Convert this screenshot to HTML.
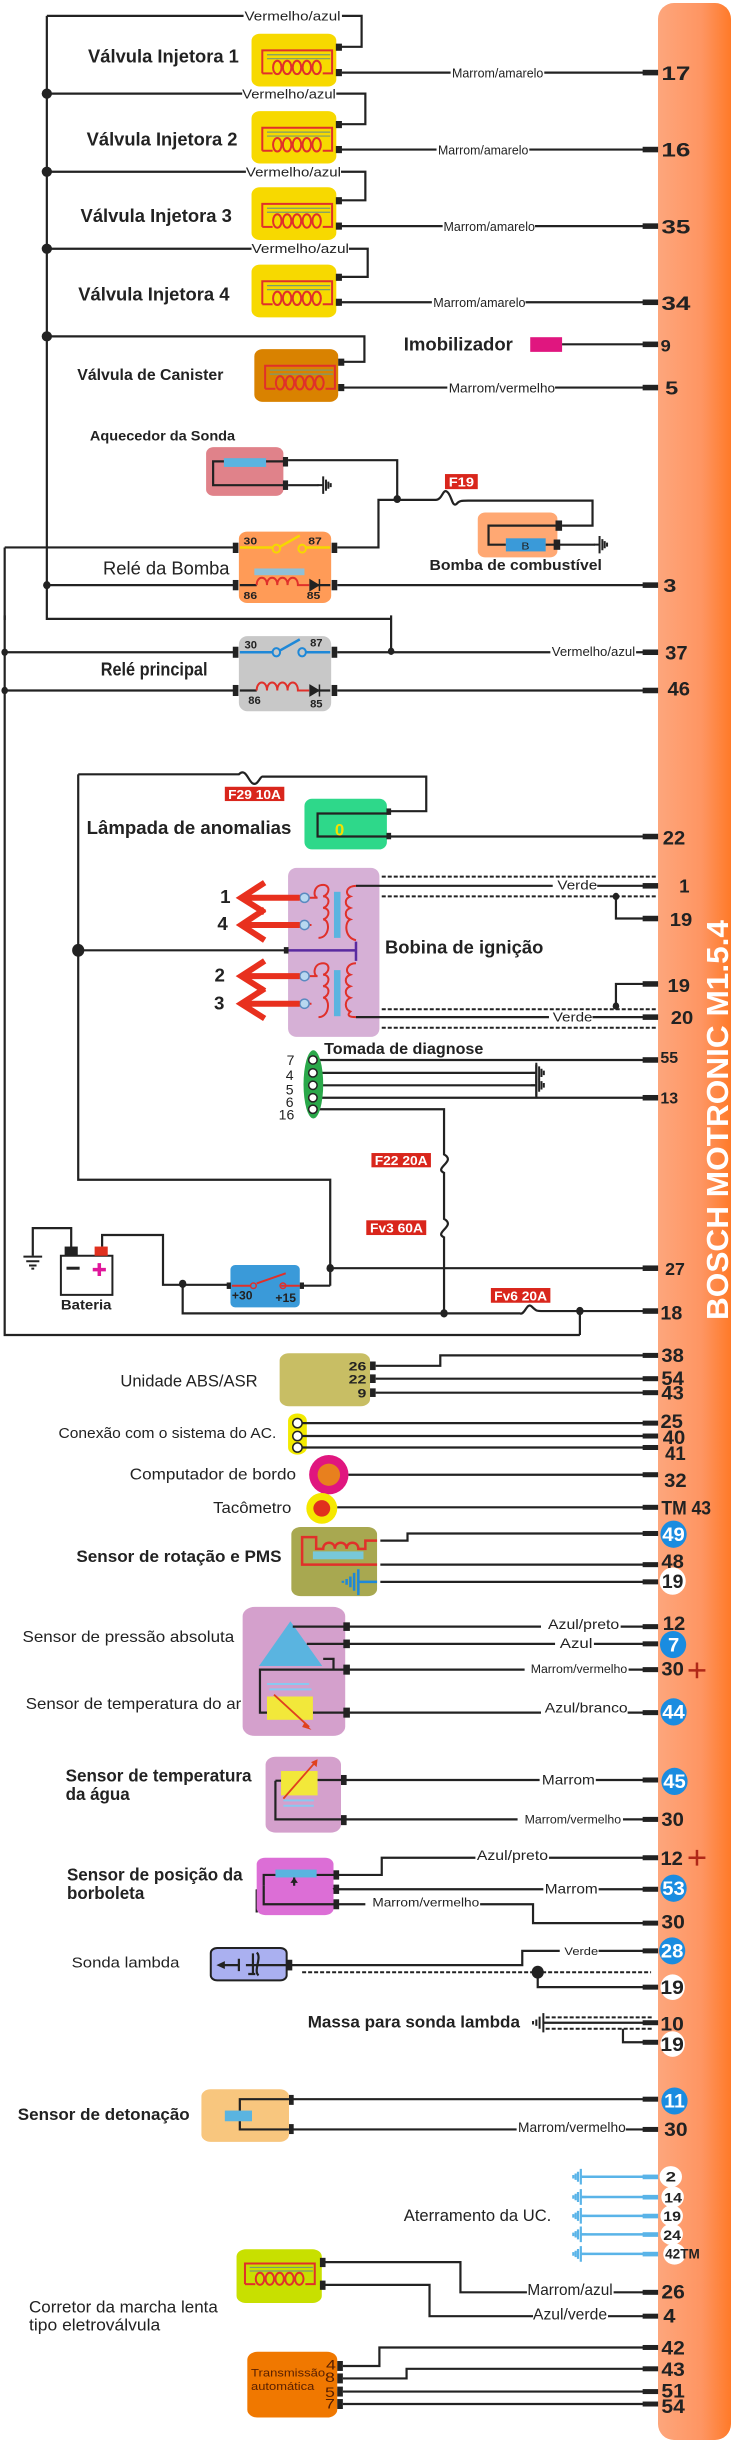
<!DOCTYPE html>
<html><head><meta charset="utf-8"><style>
html,body{margin:0;padding:0;background:#fff;}
svg{display:block;}
text{font-family:"Liberation Sans",sans-serif;fill:#222;}
.b{font-weight:bold;}
.w{stroke:#222;stroke-width:2.2;fill:none;vector-effect:non-scaling-stroke;}
.wd{stroke:#222;stroke-width:2;fill:none;stroke-dasharray:4 2;vector-effect:non-scaling-stroke;}
.r{stroke:#e0302a;stroke-width:2;fill:none;vector-effect:non-scaling-stroke;}
.ra{stroke:#e8301e;stroke-width:6;fill:none;vector-effect:non-scaling-stroke;}
.bl{stroke:#1e88d8;stroke-width:2.5;fill:none;vector-effect:non-scaling-stroke;}
.lb{stroke:#5ab4e8;stroke-width:2.5;fill:none;vector-effect:non-scaling-stroke;}
.pad{fill:#222;}
.rl{fill:#d9261c;}
.rt{fill:#fff;font-weight:bold;}
</style></head><body>
<svg width="732" height="2456" viewBox="0 0 732 2456" xmlns="http://www.w3.org/2000/svg">
<defs>
<linearGradient id="bar" x1="0" y1="0" x2="1" y2="0">
<stop offset="0" stop-color="#fda67c"/><stop offset="0.6" stop-color="#fe9562"/><stop offset="1" stop-color="#ff7a28"/>
</linearGradient>
<g id="inj">
<path class="r" d="M23 100 V42 H172 V100 H152"/>
<path d="M33 53 H168 M33 63 H168" stroke="#7a9a70" stroke-width="1.2" fill="none" vector-effect="non-scaling-stroke"/>
<path class="r" d="M23 100 H45"/>
<ellipse class="r" cx="55" cy="85" rx="9" ry="17"/><ellipse class="r" cx="76" cy="85" rx="9" ry="17"/><ellipse class="r" cx="97" cy="85" rx="9" ry="17"/><ellipse class="r" cx="118" cy="85" rx="9" ry="17"/><ellipse class="r" cx="139" cy="85" rx="9" ry="17"/>
</g>
<g id="gnd">
<path d="M0 0 H12 M12 -22 V22 M18 -14 V14 M23 -9 V9 M28 -5 V5" stroke="#222" stroke-width="2" fill="none" vector-effect="non-scaling-stroke"/>
</g>
<g id="gndb">
<path d="M0 0 H-12 M-12 -22 V22 M-18 -14 V14 M-23 -9 V9 M-28 -5 V5" stroke="#5ab4e8" stroke-width="2.2" fill="none" vector-effect="non-scaling-stroke"/>
</g>
</defs>

<rect x="658" y="3" width="73" height="2437" rx="16" fill="url(#bar)"/>
<text x="0" y="0" transform="translate(728,1320) rotate(-90)" font-size="31" class="b" style="fill:#fff" textLength="400" lengthAdjust="spacingAndGlyphs">BOSCH MOTRONIC M1.5.4</text>

<!-- SECTION 1 -->
<g transform="scale(0.4684 0.3967)">
<path class="w" d="M100 40 V1560 H835"/>
<path class="w" d="M100 40 H520 M730 40 H772 V118 H720"/>
<path class="w" d="M730 183 H962 M1162 183 H1375"/>
<path class="w" d="M100 236 H517 M718 236 H780 V313 H720"/>
<path class="w" d="M720 377 H932 M1130 377 H1375"/>
<path class="w" d="M100 433 H525 M728 433 H780 V505 H720"/>
<path class="w" d="M720 570 H945 M1142 570 H1375"/>
<path class="w" d="M100 627 H537 M745 627 H785 V698 H720"/>
<path class="w" d="M720 762 H922 M1122 762 H1375"/>
<path class="w" d="M100 848 H778 V912 H728"/>
<path class="w" d="M728 977 H955 M1185 977 H1375"/>
<g fill="#222"><ellipse cx="100" cy="236" rx="11" ry="13"/><ellipse cx="100" cy="433" rx="11" ry="13"/><ellipse cx="100" cy="627" rx="11" ry="13"/><ellipse cx="100" cy="848" rx="11" ry="13"/><ellipse cx="100" cy="1475" rx="8" ry="10"/></g>
<rect x="537" y="85" width="181" height="133" rx="18" fill="#f7d900"/>
<rect x="537" y="280" width="181" height="132" rx="18" fill="#f7d900"/>
<rect x="537" y="472" width="181" height="133" rx="18" fill="#f7d900"/>
<rect x="537" y="667" width="181" height="133" rx="18" fill="#f7d900"/>
<rect x="543" y="880" width="179" height="133" rx="18" fill="#d98200"/>
<use href="#inj" x="537" y="85"/><use href="#inj" x="537" y="280"/><use href="#inj" x="537" y="472"/><use href="#inj" x="537" y="667"/><use href="#inj" x="543" y="880"/>
<g class="pad">
<rect x="717" y="110" width="13" height="18"/><rect x="717" y="174" width="13" height="18"/>
<rect x="717" y="305" width="13" height="18"/><rect x="717" y="368" width="13" height="18"/>
<rect x="717" y="497" width="13" height="18"/><rect x="717" y="561" width="13" height="18"/>
<rect x="717" y="690" width="13" height="18"/><rect x="717" y="753" width="13" height="18"/>
<rect x="722" y="904" width="13" height="18"/><rect x="722" y="968" width="13" height="18"/>
<rect x="1372" y="176" width="33" height="14"/><rect x="1372" y="370" width="33" height="14"/><rect x="1372" y="563" width="33" height="14"/><rect x="1372" y="755" width="33" height="14"/><rect x="1372" y="861" width="33" height="14"/><rect x="1372" y="970" width="33" height="14"/><rect x="1372" y="1468" width="33" height="14"/>
</g>
<g font-size="32">
<text x="522" y="52" textLength="205" lengthAdjust="spacingAndGlyphs">Vermelho/azul</text>
<text x="517" y="248" textLength="200" lengthAdjust="spacingAndGlyphs">Vermelho/azul</text>
<text x="525" y="445" textLength="203" lengthAdjust="spacingAndGlyphs">Vermelho/azul</text>
<text x="537" y="638" textLength="208" lengthAdjust="spacingAndGlyphs">Vermelho/azul</text>
<text x="965" y="195" textLength="195" lengthAdjust="spacingAndGlyphs">Marrom/amarelo</text>
<text x="935" y="389" textLength="193" lengthAdjust="spacingAndGlyphs">Marrom/amarelo</text>
<text x="947" y="582" textLength="195" lengthAdjust="spacingAndGlyphs">Marrom/amarelo</text>
<text x="925" y="774" textLength="197" lengthAdjust="spacingAndGlyphs">Marrom/amarelo</text>
<text x="958" y="989" textLength="227" lengthAdjust="spacingAndGlyphs">Marrom/vermelho</text>
</g>
<g font-size="46">
<text x="188" y="158" class="b" textLength="322" lengthAdjust="spacingAndGlyphs">Válvula Injetora 1</text>
<text x="185" y="367" class="b" textLength="322" lengthAdjust="spacingAndGlyphs">Válvula Injetora 2</text>
<text x="172" y="560" class="b" textLength="323" lengthAdjust="spacingAndGlyphs">Válvula Injetora 3</text>
<text x="167" y="757" class="b" textLength="323" lengthAdjust="spacingAndGlyphs">Válvula Injetora 4</text>
<text x="165" y="958" font-size="40" class="b" textLength="312" lengthAdjust="spacingAndGlyphs">Válvula de Canister</text>
<text x="862" y="883" class="b" textLength="233" lengthAdjust="spacingAndGlyphs">Imobilizador</text>
</g>
<g font-size="50" class="b">
<text x="1412" y="202" class="b" textLength="62" lengthAdjust="spacingAndGlyphs">17</text>
<text x="1412" y="395" class="b" textLength="62" lengthAdjust="spacingAndGlyphs">16</text>
<text x="1412" y="588" class="b" textLength="62" lengthAdjust="spacingAndGlyphs">35</text>
<text x="1412" y="781" class="b" textLength="62" lengthAdjust="spacingAndGlyphs">34</text>
<text x="1410" y="886" class="b" font-size="42" textLength="22" lengthAdjust="spacingAndGlyphs">9</text>
<text x="1420" y="995" class="b" font-size="46" textLength="28" lengthAdjust="spacingAndGlyphs">5</text>
<text x="1416" y="1492" class="b" font-size="46" textLength="28" lengthAdjust="spacingAndGlyphs">3</text>
</g>
<rect x="1132" y="850" width="68" height="37" fill="#e0167f"/>
<path class="w" d="M1200 868 H1375"/>
<!-- aquecedor -->
<text x="192" y="1110" font-size="36" class="b" textLength="310" lengthAdjust="spacingAndGlyphs">Aquecedor da Sonda</text>
<rect x="440" y="1127" width="165" height="123" rx="16" fill="#e0828a"/>
<path class="w" d="M605 1163 H455 V1223 H605"/>
<rect x="478" y="1155" width="90" height="22" fill="#5ab4e0"/>
<g class="pad"><rect x="604" y="1152" width="11" height="24"/><rect x="604" y="1211" width="11" height="24"/></g>
<path class="w" d="M615 1160 H848 V1258 M615 1223 H680"/>
<use href="#gnd" x="678" y="1223"/>
<path class="w" d="M720 1380 H808 V1260 H930 C945 1260 945 1230 955 1240 C965 1250 965 1280 975 1270 C980 1262 985 1262 1000 1262 H1265 V1325 H1200"/>
<ellipse cx="848" cy="1258" rx="8" ry="10" fill="#222"/>
<rect x="950" y="1195" width="70" height="38" class="rl"/>
<text x="958" y="1227" font-size="32" class="rt" textLength="54" lengthAdjust="spacingAndGlyphs">F19</text>
<rect x="1020" y="1292" width="170" height="113" rx="16" fill="#ffa873"/>
<path class="w" d="M1190 1325 H1043 V1373 H1080"/>
<rect x="1080" y="1357" width="85" height="33" fill="#3a9ad9"/>
<text x="1113" y="1385" font-size="26">B</text>
<path class="w" d="M1165 1373 H1270"/>
<g class="pad"><rect x="1186" y="1312" width="14" height="26"/><rect x="1182" y="1360" width="14" height="26"/></g>
<use href="#gnd" x="1268" y="1373"/>
<text x="917" y="1437" font-size="38" class="b" textLength="368" lengthAdjust="spacingAndGlyphs">Bomba de combustível</text>
<!-- rele bomba -->
<path class="w" d="M10 1380 V1563 M10 1380 H502 M100 1475 H502 M720 1475 H1375"/>
<rect x="510" y="1340" width="197" height="180" rx="18" fill="#ff9b57"/>
<path d="M512 1380 H582 M598 1378 L640 1350 M652 1380 H705" stroke="#f5d800" stroke-width="2.5" fill="none" vector-effect="non-scaling-stroke"/>
<ellipse cx="590" cy="1383" rx="8" ry="10" fill="none" stroke="#f5d800" stroke-width="2" vector-effect="non-scaling-stroke"/>
<ellipse cx="645" cy="1383" rx="8" ry="10" fill="none" stroke="#f5d800" stroke-width="2" vector-effect="non-scaling-stroke"/>
<rect x="543" y="1433" width="107" height="17" fill="#8fc0d8"/>
<path class="w" d="M512 1475 H548 M662 1475 H705"/>
<path class="r" d="M548 1475 C548 1450 570 1450 570 1475 C570 1450 592 1450 592 1475 C592 1450 614 1450 614 1475 C614 1450 636 1450 636 1475 H660"/>
<path d="M662 1462 L680 1475 L662 1488 Z M682 1460 V1490" fill="#222" stroke="#222" stroke-width="1.5" vector-effect="non-scaling-stroke"/>
<g class="pad"><rect x="497" y="1368" width="12" height="26"/><rect x="708" y="1368" width="12" height="26"/><rect x="497" y="1462" width="12" height="26"/><rect x="708" y="1462" width="12" height="26"/></g>
<g font-size="26" class="b"><text x="520" y="1372">30</text><text x="658" y="1372">87</text><text x="520" y="1510">86</text><text x="655" y="1510">85</text></g>
<text x="220" y="1448" font-size="46" textLength="270" lengthAdjust="spacingAndGlyphs">Relé da Bomba</text>
</g>

<!-- SECTION 2 -->
<g transform="translate(0,620) scale(0.4684 0.4607)">
<path class="w" d="M10 -10 V1552 H1238 M835 -10 V70"/>
<ellipse cx="835" cy="68" rx="7" ry="8" fill="#222"/>
<ellipse cx="10" cy="70" rx="7" ry="8" fill="#222"/><ellipse cx="10" cy="153" rx="7" ry="8" fill="#222"/>
<path class="w" d="M10 70 H502 M720 70 H1175 M1358 70 H1375 M10 153 H502 M720 153 H1375"/>
<rect x="510" y="35" width="197" height="163" rx="18" fill="#c8c8c8"/>
<path class="bl" d="M512 70 H582 M598 66 L640 42 M652 70 H705"/>
<ellipse cx="590" cy="70" rx="8" ry="9" fill="none" stroke="#1e88d8" stroke-width="2" vector-effect="non-scaling-stroke"/>
<ellipse cx="645" cy="70" rx="8" ry="9" fill="none" stroke="#1e88d8" stroke-width="2" vector-effect="non-scaling-stroke"/>
<path class="w" d="M512 153 H548 M662 153 H705"/>
<path class="r" d="M548 153 C548 130 570 130 570 153 C570 130 592 130 592 153 C592 130 614 130 614 153 C614 130 636 130 636 153 H660"/>
<path d="M662 142 L680 153 L662 164 Z M682 140 V166" fill="#222" stroke="#222" stroke-width="1.5" vector-effect="non-scaling-stroke"/>
<g class="pad"><rect x="497" y="58" width="12" height="24"/><rect x="708" y="58" width="12" height="24"/><rect x="497" y="141" width="12" height="24"/><rect x="708" y="141" width="12" height="24"/>
<rect x="1372" y="64" width="33" height="12"/><rect x="1372" y="147" width="33" height="12"/></g>
<g font-size="24" class="b"><text x="522" y="62">30</text><text x="662" y="58">87</text><text x="530" y="182">86</text><text x="662" y="190">85</text></g>
<text x="1178" y="78" font-size="28" textLength="178" lengthAdjust="spacingAndGlyphs">Vermelho/azul</text>
<text x="215" y="120" font-size="40" class="b" textLength="228" lengthAdjust="spacingAndGlyphs">Relé principal</text>
<g class="b" font-size="42">
<text x="1420" y="86" class="b" textLength="48" lengthAdjust="spacingAndGlyphs">37</text>
<text x="1425" y="164" class="b" textLength="48" lengthAdjust="spacingAndGlyphs">46</text>
</g>
<!-- F29 / lamp -->
<path class="w" d="M167 335 V1215 H705 V1445 M167 335 H510 C525 320 530 350 540 355 C550 360 555 340 560 340 H910 V415 H830"/>
<rect x="480" y="362" width="127" height="31" class="rl"/>
<text x="487" y="388" font-size="28" class="rt" textLength="113" lengthAdjust="spacingAndGlyphs">F29 10A</text>
<rect x="650" y="388" width="176" height="110" rx="16" fill="#2ed88a"/>
<path class="w" d="M830 420 H678 V470 H830"/>
<text x="715" y="468" font-size="36" style="fill:#f5e000" class="b">0</text>
<path class="w" d="M830 470 H1375"/>
<g class="pad"><rect x="825" y="409" width="10" height="14"/><rect x="825" y="462" width="10" height="14"/><rect x="1372" y="464" width="33" height="12"/></g>
<text x="185" y="465" font-size="40" class="b" textLength="437" lengthAdjust="spacingAndGlyphs">Lâmpada de anomalias</text>
<text x="1415" y="487" font-size="42" class="b" textLength="48" lengthAdjust="spacingAndGlyphs">22</text>
<!-- bobina -->
<rect x="615" y="538" width="195" height="367" rx="18" fill="#d6b0d6"/>
<path class="wd" d="M815 557 H1400 M815 600 H1400 M815 845 H1400 M815 885 H1400"/>
<path class="w" d="M760 577 H1180 M1275 577 H1375 M1315 600 V648 H1375 M1315 838 V790 H1375 M760 862 H1172 M1265 862 H1375"/>
<ellipse cx="1315" cy="600" rx="7" ry="8" fill="#222"/><ellipse cx="1315" cy="838" rx="7" ry="8" fill="#222"/>
<g class="pad"><rect x="1372" y="571" width="33" height="12"/><rect x="1372" y="642" width="33" height="12"/><rect x="1372" y="784" width="33" height="12"/><rect x="1372" y="856" width="33" height="12"/></g>
<text x="1190" y="585" font-size="28" textLength="85" lengthAdjust="spacingAndGlyphs">Verde</text>
<text x="1180" y="872" font-size="28" textLength="85" lengthAdjust="spacingAndGlyphs">Verde</text>
<g class="b" font-size="40">
<text x="1450" y="592" class="b">1</text><text x="1430" y="664" class="b" textLength="48" lengthAdjust="spacingAndGlyphs">19</text>
<text x="1425" y="807" class="b" textLength="48" lengthAdjust="spacingAndGlyphs">19</text><text x="1432" y="877" class="b" textLength="48" lengthAdjust="spacingAndGlyphs">20</text>
</g>
<path class="r" d="M650 603 H678 C668 603 668 575 690 575 C705 575 705 595 690 600 C705 600 705 620 690 625 C705 625 705 645 690 650 C705 650 705 690 680 690 M650 662 H665"/>
<path class="r" d="M760 577 C740 577 735 595 748 600 C735 605 735 620 748 625 C735 630 735 645 748 650 C735 655 735 690 760 695"/>
<rect x="713" y="590" width="14" height="100" fill="#5ab4e0"/>
<path class="r" d="M650 773 H678 C668 773 668 745 690 745 C705 745 705 765 690 770 C705 770 705 790 690 795 C705 795 705 815 690 820 C705 820 705 862 680 862 M650 833 H665"/>
<path class="r" d="M760 745 C740 745 735 765 748 770 C735 775 735 790 748 795 C735 800 735 815 748 820 C735 825 735 845 748 850 C740 858 745 862 760 862"/>
<rect x="713" y="760" width="14" height="100" fill="#5ab4e0"/>
<g fill="#b8d8f0" stroke="#5a8ac0" stroke-width="1.5"><ellipse cx="650" cy="603" rx="10" ry="10" vector-effect="non-scaling-stroke"/><ellipse cx="650" cy="662" rx="10" ry="10" vector-effect="non-scaling-stroke"/><ellipse cx="650" cy="773" rx="10" ry="10" vector-effect="non-scaling-stroke"/><ellipse cx="650" cy="833" rx="10" ry="10" vector-effect="non-scaling-stroke"/></g>
<path class="ra" d="M640 603 H520 M565 570 L515 603 L565 635 M640 662 H520 M565 628 L515 662 L565 695 M640 773 H520 M565 740 L515 773 L565 805 M640 833 H520 M565 800 L515 833 L565 865"/>
<g class="b" font-size="40"><text x="470" y="614" class="b">1</text><text x="464" y="673" class="b">4</text><text x="458" y="785" class="b">2</text><text x="457" y="846" class="b">3</text></g>
<path class="w" d="M167 717 H612"/>
<path d="M612 717 H760 M760 698 V740" stroke="#5a2aa0" stroke-width="2.5" fill="none" vector-effect="non-scaling-stroke"/>
<rect x="606" y="710" width="10" height="14" class="pad"/>
<ellipse cx="167" cy="717" rx="13" ry="14" fill="#222"/>
<text x="822" y="724" font-size="40" class="b" textLength="338" lengthAdjust="spacingAndGlyphs">Bobina de ignição</text>
<!-- diagnose -->
<text x="692" y="942" font-size="34" class="b" textLength="340" lengthAdjust="spacingAndGlyphs">Tomada de diagnose</text>
<path class="w" d="M680 955 H1375 M680 983 H1145 M680 1010 H1145 M680 1037 H1375 M1145 965 V1035 M680 1062 H948 V1160 C975 1175 925 1190 948 1200 V1300 C975 1315 925 1330 948 1340 V1505"/>
<use href="#gnd" x="1133" y="983"/><use href="#gnd" x="1133" y="1010"/>
<ellipse cx="669" cy="1008" rx="21" ry="74" fill="#2aa84a"/>
<g fill="#fff" stroke="#222" stroke-width="1.5"><ellipse cx="668" cy="955" rx="9" ry="9" vector-effect="non-scaling-stroke"/><ellipse cx="668" cy="983" rx="9" ry="9" vector-effect="non-scaling-stroke"/><ellipse cx="668" cy="1010" rx="9" ry="9" vector-effect="non-scaling-stroke"/><ellipse cx="668" cy="1037" rx="9" ry="9" vector-effect="non-scaling-stroke"/><ellipse cx="668" cy="1062" rx="9" ry="9" vector-effect="non-scaling-stroke"/></g>
<g font-size="30"><text x="612" y="966">7</text><text x="610" y="998">4</text><text x="610" y="1030">5</text><text x="610" y="1057">6</text><text x="595" y="1084">16</text></g>
<g class="pad"><rect x="1372" y="949" width="33" height="12"/><rect x="1372" y="1031" width="33" height="12"/></g>
<g class="b" font-size="34"><text x="1410" y="962" class="b">55</text><text x="1410" y="1050" class="b">13</text></g>
<rect x="793" y="1157" width="127" height="31" class="rl"/><text x="800" y="1183" font-size="28" class="rt" textLength="113" lengthAdjust="spacingAndGlyphs">F22 20A</text>
<rect x="782" y="1303" width="128" height="32" class="rl"/><text x="790" y="1330" font-size="28" class="rt" textLength="113" lengthAdjust="spacingAndGlyphs">Fv3 60A</text>
<!-- battery -->
<path class="w" d="M152 1362 V1320 H70 V1380"/>
<path d="M50 1382 H90 M56 1392 H84 M62 1401 H78 M67 1408 H73" stroke="#222" stroke-width="2" vector-effect="non-scaling-stroke"/>
<rect x="130" y="1380" width="110" height="85" fill="#fff" stroke="#222" stroke-width="2" vector-effect="non-scaling-stroke"/>
<rect x="138" y="1360" width="28" height="20" fill="#222"/><rect x="202" y="1360" width="28" height="20" fill="#e0301e"/>
<path d="M142 1407 H170" stroke="#222" stroke-width="3" vector-effect="non-scaling-stroke"/>
<path d="M198 1410 H226 M212 1396 V1424" stroke="#e0169a" stroke-width="3.5" vector-effect="non-scaling-stroke"/>
<text x="130" y="1497" font-size="30" class="b" textLength="108" lengthAdjust="spacingAndGlyphs">Bateria</text>
<path class="w" d="M218 1360 V1335 H348 V1443 H487 M390 1443 V1505 H1110 C1120 1510 1125 1480 1135 1490 C1145 1500 1145 1500 1160 1500 H1375 M1238 1500 V1552 M645 1445 H705 M705 1407 H1375"/>
<rect x="492" y="1400" width="148" height="92" rx="10" fill="#3a9ad9"/>
<path d="M495 1445 H535 M548 1440 L610 1418 M600 1445 H640" stroke="#e0302a" stroke-width="2" fill="none" vector-effect="non-scaling-stroke"/>
<ellipse cx="541" cy="1445" rx="6" ry="6" fill="none" stroke="#e0302a" stroke-width="1.5" vector-effect="non-scaling-stroke"/>
<ellipse cx="604" cy="1445" rx="6" ry="6" fill="none" stroke="#e0302a" stroke-width="1.5" vector-effect="non-scaling-stroke"/>
<g class="b" font-size="26"><text x="495" y="1475" class="b">+30</text><text x="588" y="1480" class="b">+15</text></g>
<g fill="#222"><ellipse cx="390" cy="1441" rx="8" ry="9"/><ellipse cx="705" cy="1407" rx="8" ry="9"/><ellipse cx="948" cy="1505" rx="8" ry="9"/><ellipse cx="1238" cy="1500" rx="8" ry="9"/></g>
<g class="pad"><rect x="484" y="1438" width="9" height="14"/><rect x="640" y="1438" width="9" height="14"/><rect x="1372" y="1401" width="33" height="12"/><rect x="1372" y="1494" width="33" height="12"/></g>
<rect x="1048" y="1450" width="127" height="32" class="rl"/><text x="1055" y="1477" font-size="28" class="rt" textLength="113" lengthAdjust="spacingAndGlyphs">Fv6 20A</text>
<g class="b" font-size="38"><text x="1420" y="1422" class="b">27</text><text x="1410" y="1518" class="b" font-size="42">18</text></g>
</g>

<!-- SECTION 3 -->
<g transform="translate(0,1340) scale(0.4684 0.3583)">
<rect x="597" y="37" width="193" height="148" rx="20" fill="#c8be64"/>
<g class="pad"><rect x="790" y="60" width="12" height="24"/><rect x="790" y="96" width="12" height="24"/><rect x="790" y="135" width="12" height="24"/></g>
<g font-size="34" class="b" text-anchor="end"><text x="782" y="85" class="b">26</text><text x="782" y="121" class="b">22</text><text x="782" y="160" class="b">9</text></g>
<path class="w" d="M802 72 H940 V43 H1375 M802 108 H1375 M802 147 H1375"/>
<text x="257" y="130" font-size="46" textLength="293" lengthAdjust="spacingAndGlyphs">Unidade ABS/ASR</text>
<rect x="615" y="205" width="40" height="115" rx="20" fill="#f2ea00"/>
<g fill="#fff" stroke="#222" stroke-width="1.5"><ellipse cx="635" cy="232" rx="10" ry="13" vector-effect="non-scaling-stroke"/><ellipse cx="635" cy="268" rx="10" ry="13" vector-effect="non-scaling-stroke"/><ellipse cx="635" cy="300" rx="10" ry="13" vector-effect="non-scaling-stroke"/></g>
<path class="w" d="M645 232 H1375 M645 268 H1375 M645 300 H1375"/>
<text x="125" y="273" font-size="40" textLength="465" lengthAdjust="spacingAndGlyphs">Conexão com o sistema do AC.</text>
<ellipse cx="702" cy="376" rx="42" ry="55" fill="#e0167f"/><ellipse cx="702" cy="376" rx="24" ry="31" fill="#e8801e"/>
<path class="w" d="M744 376 H1375"/>
<text x="277" y="390" font-size="44" textLength="355" lengthAdjust="spacingAndGlyphs">Computador de bordo</text>
<ellipse cx="687" cy="470" rx="33" ry="43" fill="#f5e800"/><ellipse cx="687" cy="470" rx="18" ry="23" fill="#e0301e"/>
<path class="w" d="M720 467 H1375"/>
<text x="455" y="483" font-size="44" textLength="167" lengthAdjust="spacingAndGlyphs">Tacômetro</text>
<rect x="622" y="522" width="183" height="193" rx="20" fill="#a8a850"/>
<path class="r" style="stroke-width:2.5" d="M805 560 H780 V583 H765 C765 560 740 560 740 583 C740 560 715 560 715 583 C715 560 690 560 690 583 H675 V550 H645 V627 H805"/>
<rect x="668" y="590" width="108" height="22" fill="#78c8d8"/>
<path class="bl" d="M805 675 H765 M765 640 V712 M756 650 V700 M748 660 V690 M740 667 V683 M732 672 V678"/>
<path class="w" d="M812 560 H870 V540 H1375 M812 627 H1375 M812 675 H1375"/>
<text x="163" y="620" font-size="46" class="b" textLength="438" lengthAdjust="spacingAndGlyphs">Sensor de rotação e PMS</text>
<!-- pressao -->
<rect x="518" y="745" width="219" height="360" rx="26" fill="#d4a0cc"/>
<path d="M620 785 L553 910 L688 910 Z" fill="#5ab4e0"/>
<path class="w" d="M625 800 H1155 M1325 800 H1375 M655 848 H1185 M1268 848 H1375 M690 890 H712 V920 H1120 M1342 920 H1375 M712 920 H555 V1040 H570 M668 1040 H1155 M1340 1040 H1375"/>
<rect x="570" y="995" width="98" height="65" fill="#f2e83a"/>
<path d="M570 960 H660 M575 975 H665" stroke="#8ac8f0" stroke-width="2" vector-effect="non-scaling-stroke"/>
<path d="M585 990 L660 1080" stroke="#e0401e" stroke-width="1.8" vector-effect="non-scaling-stroke"/>
<path d="M650 1068 L665 1088 L645 1080 Z" fill="#e0401e"/>
<g class="pad"><rect x="733" y="788" width="14" height="24"/><rect x="733" y="836" width="14" height="24"/><rect x="733" y="906" width="14" height="28"/><rect x="733" y="1026" width="14" height="28"/></g>
<text x="48" y="843" font-size="44" textLength="452" lengthAdjust="spacingAndGlyphs">Sensor de pressão absoluta</text>
<text x="55" y="1030" font-size="44" textLength="460" lengthAdjust="spacingAndGlyphs">Sensor de temperatura do ar</text>
<g font-size="38"><text x="1170" y="806" textLength="152" lengthAdjust="spacingAndGlyphs">Azul/preto</text><text x="1195" y="860" textLength="70" lengthAdjust="spacingAndGlyphs">Azul</text>
<text x="1133" y="930" font-size="34" textLength="206" lengthAdjust="spacingAndGlyphs">Marrom/vermelho</text><text x="1163" y="1040" textLength="177" lengthAdjust="spacingAndGlyphs">Azul/branco</text></g>
<!-- agua -->
<rect x="567" y="1163" width="161" height="212" rx="22" fill="#d4a0cc"/>
<rect x="600" y="1203" width="78" height="68" fill="#f2e83a"/>
<path class="w" d="M678 1228 H1152 M1272 1228 H1375 M588 1230 V1338 H1105 M1330 1338 H1375 M588 1230 H600"/>
<path d="M605 1285 H670 M605 1300 H670" stroke="#8ac8f0" stroke-width="2" vector-effect="non-scaling-stroke"/>
<path d="M605 1280 L672 1180" stroke="#e0401e" stroke-width="1.8" vector-effect="non-scaling-stroke"/>
<path d="M664 1178 L678 1170 L676 1192 Z" fill="#e0401e"/>
<g class="pad"><rect x="728" y="1214" width="12" height="28"/><rect x="728" y="1326" width="12" height="28"/></g>
<text x="140" y="1232" font-size="48" class="b" textLength="397" lengthAdjust="spacingAndGlyphs">Sensor de temperatura</text>
<text x="140" y="1284" font-size="48" class="b" textLength="137" lengthAdjust="spacingAndGlyphs">da água</text>
<text x="1157" y="1240" font-size="38" textLength="113" lengthAdjust="spacingAndGlyphs">Marrom</text>
<text x="1120" y="1350" font-size="34" textLength="206" lengthAdjust="spacingAndGlyphs">Marrom/vermelho</text>
<!-- borboleta -->
<rect x="548" y="1445" width="164" height="160" rx="18" fill="#dc6ed6"/>
<rect x="588" y="1478" width="88" height="22" fill="#5ab4e0"/>
<path class="w" d="M676 1493 H720 M588 1493 H563 V1600 M628 1500 V1533 H720 M720 1493 H815 V1445 H1015 M1172 1445 H1375 M720 1533 H1160 M1278 1533 H1375"/>
<path d="M620 1515 L628 1500 L636 1515 Z" fill="#222"/>
<g class="pad"><rect x="712" y="1480" width="12" height="26"/><rect x="712" y="1520" width="12" height="26"/><rect x="1372" y="36" width="33" height="14"/><rect x="1372" y="101" width="33" height="14"/><rect x="1372" y="140" width="33" height="14"/><rect x="1372" y="225" width="33" height="14"/><rect x="1372" y="261" width="33" height="14"/><rect x="1372" y="293" width="33" height="14"/><rect x="1372" y="369" width="33" height="14"/><rect x="1372" y="460" width="33" height="14"/><rect x="1372" y="533" width="33" height="14"/><rect x="1372" y="620" width="33" height="14"/><rect x="1372" y="668" width="33" height="14"/><rect x="1372" y="793" width="33" height="14"/><rect x="1372" y="841" width="33" height="14"/><rect x="1372" y="913" width="33" height="14"/><rect x="1372" y="1033" width="33" height="14"/><rect x="1372" y="1221" width="33" height="14"/><rect x="1372" y="1331" width="33" height="14"/><rect x="1372" y="1438" width="33" height="14"/><rect x="1372" y="1526" width="33" height="14"/></g>
<text x="143" y="1508" font-size="48" class="b" textLength="375" lengthAdjust="spacingAndGlyphs">Sensor de posição da</text>
<text x="143" y="1560" font-size="48" class="b" textLength="165" lengthAdjust="spacingAndGlyphs">borboleta</text>
<text x="1018" y="1452" font-size="38" textLength="152" lengthAdjust="spacingAndGlyphs">Azul/preto</text>
<text x="1163" y="1545" font-size="38" textLength="113" lengthAdjust="spacingAndGlyphs">Marrom</text>
<!-- numbers -->
<g fill="#1a8ce0"><ellipse cx="1438" cy="542" rx="28" ry="38"/><ellipse cx="1437" cy="850" rx="28" ry="38"/><ellipse cx="1438" cy="1038" rx="28" ry="38"/><ellipse cx="1440" cy="1232" rx="28" ry="38"/><ellipse cx="1438" cy="1530" rx="28" ry="38"/></g>
<ellipse cx="1436" cy="673" rx="28" ry="38" fill="#fff"/>
<g class="b" font-size="54">
<text x="1412" y="62" class="b" textLength="48" lengthAdjust="spacingAndGlyphs">38</text>
<text x="1412" y="126" class="b" textLength="48" lengthAdjust="spacingAndGlyphs">54</text>
<text x="1412" y="166" class="b" textLength="48" lengthAdjust="spacingAndGlyphs">43</text>
<text x="1410" y="245" class="b" textLength="48" lengthAdjust="spacingAndGlyphs">25</text>
<text x="1415" y="290" class="b" textLength="48" lengthAdjust="spacingAndGlyphs">40</text>
<text x="1420" y="335" class="b" textLength="44" lengthAdjust="spacingAndGlyphs">41</text>
<text x="1418" y="410" class="b" textLength="48" lengthAdjust="spacingAndGlyphs">32</text>
<text x="1412" y="487" class="b" textLength="106" lengthAdjust="spacingAndGlyphs">TM 43</text>
<text x="1414" y="561" class="b" style="fill:#fff" textLength="48" lengthAdjust="spacingAndGlyphs">49</text>
<text x="1412" y="637" class="b" textLength="48" lengthAdjust="spacingAndGlyphs">48</text>
<text x="1413" y="692" class="b" textLength="46" lengthAdjust="spacingAndGlyphs">19</text>
<text x="1415" y="810" class="b" textLength="48" lengthAdjust="spacingAndGlyphs">12</text>
<text x="1426" y="869" class="b" style="fill:#fff" textLength="24" lengthAdjust="spacingAndGlyphs">7</text>
<text x="1412" y="936" class="b" textLength="48" lengthAdjust="spacingAndGlyphs">30</text>
<text x="1414" y="1057" class="b" style="fill:#fff" textLength="48" lengthAdjust="spacingAndGlyphs">44</text>
<text x="1416" y="1251" class="b" style="fill:#fff" textLength="48" lengthAdjust="spacingAndGlyphs">45</text>
<text x="1412" y="1356" class="b" textLength="48" lengthAdjust="spacingAndGlyphs">30</text>
<text x="1410" y="1465" class="b" textLength="48" lengthAdjust="spacingAndGlyphs">12</text>
<text x="1414" y="1549" class="b" style="fill:#fff" textLength="48" lengthAdjust="spacingAndGlyphs">53</text>
</g>
<path d="M1470 922 H1506 M1488 900 V944 M1470 1445 H1506 M1488 1423 V1467" stroke="#b02818" stroke-width="2.5" vector-effect="non-scaling-stroke"/>
</g>

<!-- SECTION 4 -->
<g transform="translate(0,1900) scale(0.4684 0.3557)">
<path class="w" d="M548 -30 V35 M548 12 H712 M720 12 H780 M1025 12 H1138 V65 H1375"/>
<rect x="548" y="-40" width="164" height="78" rx="14" fill="#dc6ed6"/>
<path class="w" d="M563 -40 V12 H712"/>
<rect x="712" y="-2" width="12" height="28" class="pad"/>
<text x="795" y="18" font-size="34" textLength="228" lengthAdjust="spacingAndGlyphs">Marrom/vermelho</text>
<!-- sonda -->
<rect x="450" y="135" width="162" height="91" rx="14" fill="#aab0f0" stroke="#222" stroke-width="2" vector-effect="non-scaling-stroke"/>
<path class="w" d="M470 183 H510 M510 165 V200 M525 183 H612 M540 150 V210 M548 148 C560 160 540 200 552 212 M545 208 H530"/>
<path d="M462 183 L480 172 L480 194 Z" fill="#222"/>
<path class="w" d="M620 183 H1115 V143 H1195 M1278 143 H1375 M1148 203 V245 H1375"/>
<path class="wd" d="M645 203 H1390"/>
<ellipse cx="1148" cy="203" rx="13" ry="18" fill="#222"/>
<rect x="612" y="168" width="12" height="30" class="pad"/>
<text x="153" y="190" font-size="42" textLength="230" lengthAdjust="spacingAndGlyphs">Sonda lambda</text>
<text x="1205" y="154" font-size="30" textLength="72" lengthAdjust="spacingAndGlyphs">Verde</text>
<!-- massa -->
<text x="657" y="358" font-size="46" class="b" textLength="453" lengthAdjust="spacingAndGlyphs">Massa para sonda lambda</text>
<path d="M1160 318 V372 M1152 328 V362 M1145 336 V354 M1138 340 V350" stroke="#222" stroke-width="2" vector-effect="non-scaling-stroke"/>
<path class="wd" d="M1165 330 H1395 M1165 362 H1395"/>
<path class="w" d="M1160 345 H1375 M1330 362 V400 H1375"/>
<!-- detonacao -->
<rect x="430" y="532" width="187" height="148" rx="20" fill="#f8c67e"/>
<path class="w" d="M617 560 H512 V645 H617 M625 560 H1375 M625 645 H1103 M1336 645 H1375"/>
<rect x="480" y="592" width="58" height="30" fill="#5ab4e0"/>
<g class="pad"><rect x="617" y="548" width="10" height="28"/><rect x="617" y="630" width="10" height="28"/></g>
<text x="38" y="618" font-size="46" class="b" textLength="367" lengthAdjust="spacingAndGlyphs">Sensor de detonação</text>
<text x="1106" y="652" font-size="38" textLength="230" lengthAdjust="spacingAndGlyphs">Marrom/vermelho</text>
<!-- aterramento -->
<path class="lb" d="M1240 778 H1400 M1240 835 H1400 M1240 888 H1400 M1240 940 H1400 M1240 995 H1400"/>
<use href="#gndb" x="1252" y="778"/><use href="#gndb" x="1252" y="835"/><use href="#gndb" x="1252" y="888"/><use href="#gndb" x="1252" y="940"/><use href="#gndb" x="1252" y="995"/>
<g fill="#5ab4e8"><rect x="1372" y="772" width="33" height="13"/><rect x="1372" y="829" width="33" height="13"/><rect x="1372" y="882" width="33" height="13"/><rect x="1372" y="934" width="33" height="13"/><rect x="1372" y="989" width="33" height="13"/></g>
<g fill="#fff"><ellipse cx="1432" cy="778" rx="24" ry="30"/><ellipse cx="1436" cy="835" rx="24" ry="30"/><ellipse cx="1434" cy="888" rx="24" ry="30"/><ellipse cx="1434" cy="940" rx="24" ry="30"/><ellipse cx="1440" cy="995" rx="24" ry="30"/></g>
<g class="b" font-size="40"><text x="1421" y="792" class="b">2</text><text x="1418" y="850" class="b" textLength="38" lengthAdjust="spacingAndGlyphs">14</text><text x="1416" y="903" class="b" textLength="38" lengthAdjust="spacingAndGlyphs">19</text><text x="1416" y="956" class="b" textLength="38" lengthAdjust="spacingAndGlyphs">24</text><text x="1420" y="1008" class="b" textLength="74" lengthAdjust="spacingAndGlyphs">42TM</text></g>
<text x="862" y="902" font-size="46" textLength="315" lengthAdjust="spacingAndGlyphs">Aterramento da UC.</text>
<!-- corretor -->
<rect x="505" y="982" width="182" height="151" rx="20" fill="#c8e000"/>
<use href="#inj" x="500" y="980"/>
<path class="w" d="M690 1018 H983 V1103 H1125 M1310 1103 H1375 M690 1082 H917 V1170 H1138 M1298 1170 H1375"/>
<g class="pad"><rect x="683" y="1006" width="12" height="26"/><rect x="683" y="1070" width="12" height="26"/></g>
<text x="1126" y="1110" font-size="44" textLength="182" lengthAdjust="spacingAndGlyphs">Marrom/azul</text>
<text x="1138" y="1180" font-size="44" textLength="158" lengthAdjust="spacingAndGlyphs">Azul/verde</text>
<text x="62" y="1160" font-size="46" textLength="403" lengthAdjust="spacingAndGlyphs">Corretor da marcha lenta</text>
<text x="62" y="1210" font-size="46" textLength="280" lengthAdjust="spacingAndGlyphs">tipo eletroválvula</text>
<!-- transmissao -->
<rect x="528" y="1270" width="192" height="185" rx="22" fill="#f07800"/>
<text x="536" y="1340" font-size="32" style="fill:#5a2000" textLength="158" lengthAdjust="spacingAndGlyphs">Transmissão</text>
<text x="536" y="1378" font-size="32" style="fill:#5a2000" textLength="135" lengthAdjust="spacingAndGlyphs">automática</text>
<g font-size="38" style="fill:#5a2000"><text x="696" y="1320" style="fill:#5a2000">4</text><text x="694" y="1355" style="fill:#5a2000">8</text><text x="694" y="1397" style="fill:#5a2000">5</text><text x="694" y="1430" style="fill:#5a2000">7</text></g>
<g class="pad"><rect x="720" y="1296" width="12" height="28"/><rect x="720" y="1331" width="12" height="28"/><rect x="720" y="1368" width="12" height="28"/><rect x="720" y="1403" width="12" height="28"/></g>
<path class="w" d="M732 1310 H810 V1258 H1375 M732 1345 H868 V1318 H1375 M732 1382 H1375 M732 1417 H1375"/>
<g class="pad"><rect x="1372" y="58" width="33" height="14"/><rect x="1372" y="136" width="33" height="14"/><rect x="1372" y="238" width="33" height="14"/><rect x="1372" y="338" width="33" height="14"/><rect x="1372" y="393" width="33" height="14"/><rect x="1372" y="553" width="33" height="14"/><rect x="1372" y="638" width="33" height="14"/><rect x="1372" y="1096" width="33" height="14"/><rect x="1372" y="1163" width="33" height="14"/><rect x="1372" y="1251" width="33" height="14"/><rect x="1372" y="1311" width="33" height="14"/><rect x="1372" y="1375" width="33" height="14"/><rect x="1372" y="1410" width="33" height="14"/></g>
<g fill="#1a8ce0"><ellipse cx="1435" cy="143" rx="28" ry="38"/><ellipse cx="1440" cy="565" rx="28" ry="38"/></g>
<g fill="#fff"><ellipse cx="1436" cy="245" rx="26" ry="36"/><ellipse cx="1436" cy="405" rx="26" ry="36"/></g>
<g class="b" font-size="54">
<text x="1412" y="80" class="b" textLength="50" lengthAdjust="spacingAndGlyphs">30</text>
<text x="1411" y="162" class="b" style="fill:#fff" textLength="48" lengthAdjust="spacingAndGlyphs">28</text>
<text x="1410" y="264" class="b" textLength="50" lengthAdjust="spacingAndGlyphs">19</text>
<text x="1410" y="367" class="b" textLength="50" lengthAdjust="spacingAndGlyphs">10</text>
<text x="1410" y="424" class="b" textLength="50" lengthAdjust="spacingAndGlyphs">19</text>
<text x="1418" y="584" class="b" style="fill:#fff" textLength="44" lengthAdjust="spacingAndGlyphs">11</text>
<text x="1418" y="664" class="b" textLength="50" lengthAdjust="spacingAndGlyphs">30</text>
<text x="1412" y="1120" class="b" textLength="50" lengthAdjust="spacingAndGlyphs">26</text>
<text x="1416" y="1188" class="b" textLength="26" lengthAdjust="spacingAndGlyphs">4</text>
<text x="1412" y="1278" class="b" textLength="50" lengthAdjust="spacingAndGlyphs">42</text>
<text x="1412" y="1338" class="b" textLength="50" lengthAdjust="spacingAndGlyphs">43</text>
<text x="1412" y="1398" class="b" textLength="50" lengthAdjust="spacingAndGlyphs">51</text>
<text x="1412" y="1442" class="b" textLength="50" lengthAdjust="spacingAndGlyphs">54</text>
</g>
</g>
</svg>
</body></html>
